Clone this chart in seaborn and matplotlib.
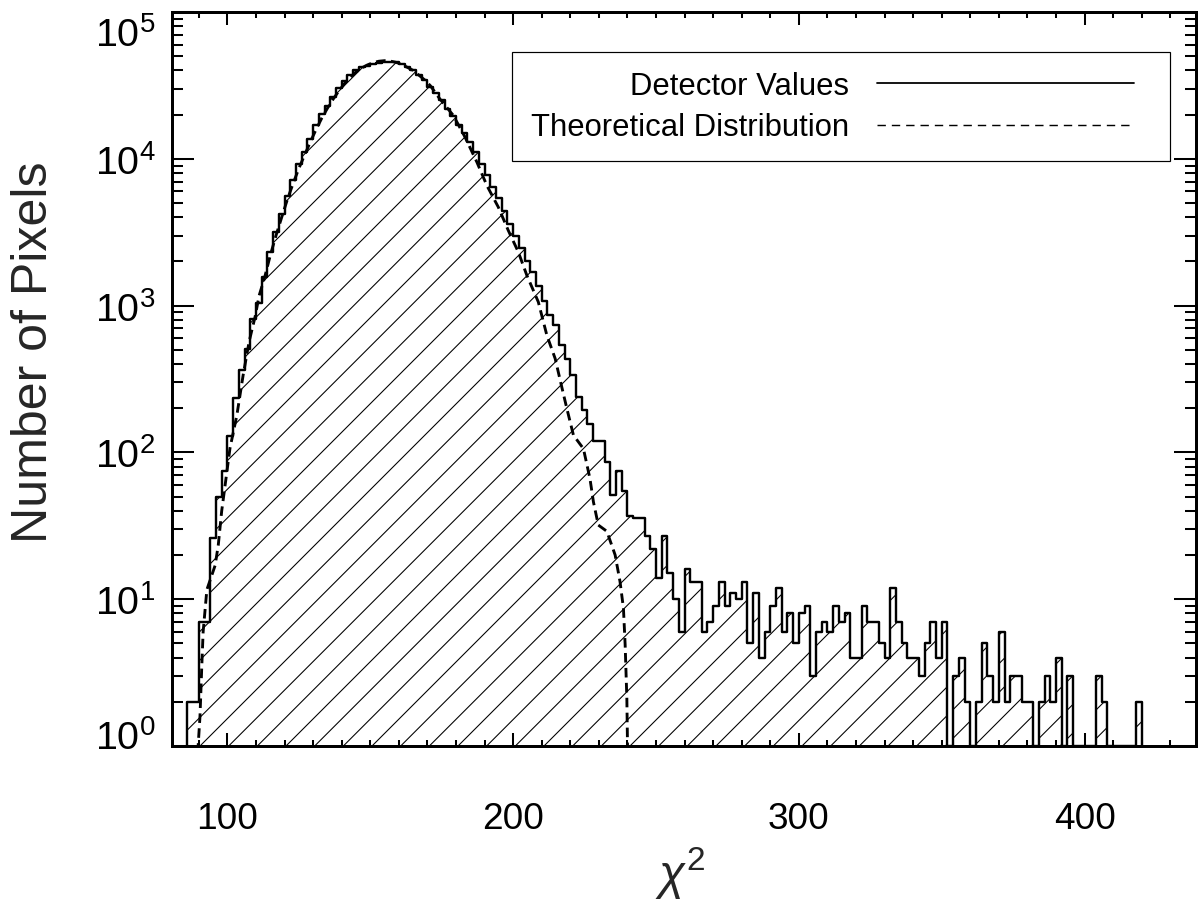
#!/usr/bin/env python3
# -*- coding: utf-8 -*-
"""
Histogram of per-pixel chi^2 values (detector) against the theoretical
distribution, log-scaled counts, hatched step histogram.
"""

import numpy as np
import matplotlib
matplotlib.use("Agg")
import matplotlib.pyplot as plt
import matplotlib.transforms as mtransforms
from matplotlib.lines import Line2D
from matplotlib.ticker import (MultipleLocator, LogLocator, FixedLocator,
                               FuncFormatter, NullFormatter)
import seaborn as sns

# ===============================================
# DATA
# ===============================================
bin_start = 86      # left edge of first bin
bin_width = 2

# counts per bin, 86-88, 88-90, ... 418-420
pixel_counts = [
    2, 2, 7, 7, 26, 50, 75, 130, 233, 367, 510, 807, 1047,
    1575, 2317, 3170, 4227, 5623, 7117, 9247, 11100, 13680, 16860,
    20230, 23070, 26230, 30200, 34100, 37250, 40500, 42000, 43150,
    44300, 45000, 45800, 46000, 45500,
    44500, 42500, 40000, 37500, 34500, 31000, 28000, 25000, 22000,
    19500, 17000, 15000, 13000, 11200, 9200, 7700, 6400, 5400, 4400,
    3600, 3000, 2450, 2000, 1700, 1350, 1080,
    859, 735, 537, 430, 336, 239, 194, 157, 119, 119, 86, 51, 75, 55,
    37, 36, 36, 27, 22, 14, 27, 15, 10, 6, 16, 13, 13, 6, 7, 9, 13, 9,
    11, 10,
    13, 5, 11, 4, 6, 9, 12, 6, 8, 5,
    8, 9, 3, 6, 7, 6, 9, 7, 8, 4,
    4, 9, 7, 7, 5, 4, 12, 7, 5, 4,
    4, 3, 5, 7, 4, 7, 1, 3, 4, 2,
    1, 2, 5, 3, 2, 6, 2, 3, 3, 2,
    2, 1, 2, 3, 2, 4, 1, 3, 1, 1,
    1, 1, 3, 2, 1, 1, 1, 1, 1, 2,
]

# theoretical curve
theo_chi2 = [
    89.6, 90.4, 91.0, 91.5, 92.8, 95.7, 96.8, 98.0, 99.2, 100.9,
    103.3, 105.5, 107.6, 109.7, 111.1, 113, 115, 117, 119, 121,
    123, 125, 127, 129, 131, 133, 135, 137, 139, 141,
    143, 145, 147, 149, 151, 153, 155, 157, 159, 161,
    165, 169, 171, 174.4, 179.1, 183.2, 187.3, 190.8, 194.8, 198.3,
    201.8, 204.8, 208.8, 211.8, 214.7, 217, 218.8, 221.1, 224.6, 226.9,
    228.1, 229.8, 232.8, 235.7, 237.4, 238.6, 239.2, 239.8, 240.1,
]
theo_counts = [
    0.9, 1.6, 3.4, 6, 11.6, 17, 23.4, 40, 60, 107,
    179, 336, 569, 842, 1170, 1550, 2200, 3000, 4000, 5300,
    6800, 8600, 10600, 13000, 15800, 18900, 22100, 25500, 29000, 32600,
    36000, 39000, 41600, 43600, 45200, 46200, 46600, 46300, 45400, 44000,
    40000, 34500, 31500, 25500, 19700, 14000, 9500, 6580, 4690, 3250,
    2320, 1607, 1060, 628, 436, 280, 199, 131, 106, 66,
    46, 32, 29, 20, 13.2, 8.7, 4.9, 2.1, 0.8,
]

x_ticks = [100, 200, 300, 400]
y_decades = [0, 1, 2, 3, 4, 5]
legend_labels = ["Detector Values", "Theoretical Distribution"]

edges = (bin_start + bin_width * np.arange(len(pixel_counts) + 1)).tolist()
centers = [e + bin_width / 2 for e in edges[:-1]]

# ===============================================
# STYLE
# ===============================================
sns.set_style("ticks")
plt.rcParams["font.family"] = ["Liberation Sans", "DejaVu Sans"]
plt.rcParams["mathtext.fontset"] = "custom"
plt.rcParams["mathtext.rm"] = "Liberation Sans"
plt.rcParams["mathtext.it"] = "Liberation Sans:italic"
plt.rcParams["text.color"] = "black"
plt.rcParams["axes.edgecolor"] = "black"
plt.rcParams["xtick.color"] = "black"
plt.rcParams["ytick.color"] = "black"
plt.rcParams["hatch.linewidth"] = 0.9
plt.rcParams["hatch.color"] = "black"
plt.rcParams["lines.scale_dashes"] = False

DPI = 86
fig = plt.figure(figsize=(1198 / DPI, 904 / DPI), dpi=DPI)
ax = fig.add_axes([172 / 1198, 1 - 747 / 904, (1196 - 172) / 1198, (747 - 13) / 904])

# ===============================================
# PLOT
# ===============================================
sns.histplot(x=centers, weights=pixel_counts, bins=edges, element="step",
             fill=True, color="black", facecolor=(1, 1, 1, 0),
             edgecolor="black", linewidth=2.0, hatch="/", ax=ax)
sns.lineplot(x=theo_chi2, y=theo_counts, color="black", linewidth=2.4,
             linestyle=(0, (8, 4.5)), ax=ax)

ax.set_yscale("log")
ax.set_xlim(80.6, 439)
ax.set_ylim(1, 1e5)

# ticks: inside, on all four sides
ax.xaxis.set_major_locator(FixedLocator(x_ticks))
ax.xaxis.set_minor_locator(MultipleLocator(10))
ax.yaxis.set_major_locator(FixedLocator([10.0 ** k for k in y_decades]))
ax.yaxis.set_minor_locator(LogLocator(base=10, subs=np.arange(2, 10)))
ax.yaxis.set_minor_formatter(NullFormatter())
ax.yaxis.set_major_formatter(
    FuncFormatter(lambda v, p: r"$\mathregular{10^{%d}}$" % round(np.log10(v))))

ax.tick_params(which="both", direction="in", top=True, right=True, width=1.7)
ax.tick_params(axis="x", which="major", length=10.9, pad=46, labelsize=31)
ax.tick_params(axis="x", which="minor", length=5)
ax.tick_params(axis="y", which="major", length=18.4, pad=14, labelsize=33)
ax.tick_params(axis="y", which="minor", length=9.2)
for s in ax.spines.values():
    s.set_linewidth(2.5)

# keep the end labels inside the axis height, as in the original
ymaj = ax.yaxis.get_major_ticks()
for tk, dy in ((ymaj[0], 12), (ymaj[-1], -19)):
    shift = mtransforms.ScaledTranslation(0, dy / DPI, fig.dpi_scale_trans)
    tk.label1.set_transform(tk.label1.get_transform() + shift)

ax.set_xlabel(r"$\chi^{2}$", fontsize=40)
ax.set_ylabel("Number of Pixels", fontsize=42)
ax.xaxis.set_label_coords(0.496, -0.134)
ax.yaxis.set_label_coords(-0.112, 0.538)

# legend: label first, then the line sample
handles = [Line2D([], [], color="black", lw=1.5),
           Line2D([], [], color="black", lw=1.2, linestyle=(0, (7, 5)))]
leg = ax.legend(handles, legend_labels, loc="upper left",
                bbox_to_anchor=(0.332, 0.9455, 0.6426, 0.0), mode="expand",
                borderaxespad=0, markerfirst=False, fontsize=26,
                handlelength=8.3, handletextpad=0.9, labelspacing=0.38,
                borderpad=0.6, frameon=True, fancybox=False, framealpha=1,
                edgecolor="black")
leg.get_frame().set_linewidth(1.0)

fig.savefig("out.png", dpi=DPI)
